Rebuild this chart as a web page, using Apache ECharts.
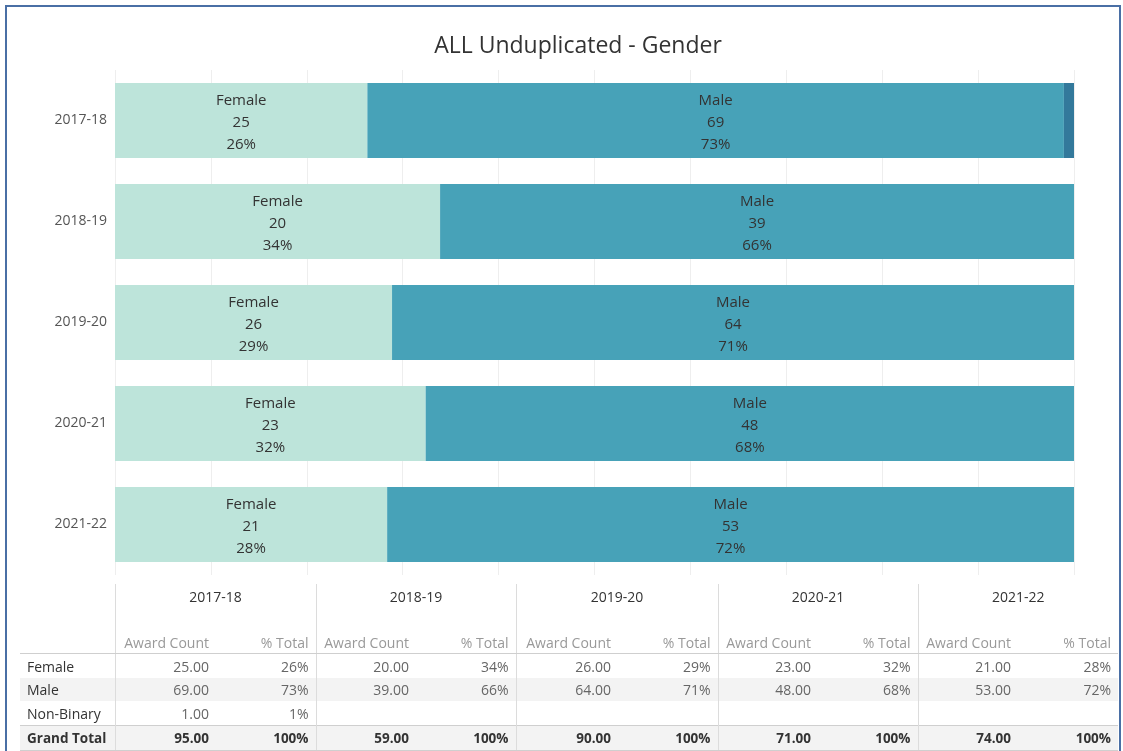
<!DOCTYPE html>
<html>
<head>
<meta charset="utf-8">
<script src="https://cdn.jsdelivr.net/npm/echarts@6/dist/echarts.min.js"></script>
<style>
  html, body { margin: 0; padding: 0; background: #fff; }
  body { width: 1123px; height: 751px; position: relative; overflow: hidden; font-family: 'Open Sans', 'Noto Sans', sans-serif; }
  #frame { position: absolute; left: 5px; top: 5px; width: 1116px; height: 780px; border: 2px solid #4a6fa5; box-sizing: border-box; }
  #chart { position: absolute; left: 0; top: 0; width: 1123px; height: 751px; }
  #tbl { position: absolute; left: 20px; top: 584px; border-collapse: collapse; table-layout: fixed; font-size: 14px; color: #666; }
  #tbl td { padding: 0 3px; white-space: nowrap; overflow: hidden; text-align: right; height: 24px; line-height: 23px; }
  #tbl td.pc { padding-right: 7px; }
  #tbl td.rh { text-align: left; padding-left: 7px; color: #333; }
  #tbl td.sep { border-left: 1px solid #dcdcdc; }
  #tbl tr.yr td { height: 40px; line-height: 18px; vertical-align: top; padding-top: 4px; text-align: center; color: #333; }
  #tbl tr.sub td { color: #999; height: 24px; line-height: 18px; vertical-align: bottom; padding-bottom: 1px; border-bottom: 1px solid #cfcfcf; }
  #tbl tr.thin td { height: 23px; }
  #tbl tr.shade td { background: #f3f3f3; }
  #tbl tr.total td { background: #f3f3f3; font-weight: bold; font-size: 13.5px; color: #333; border-top: 1px solid #cfcfcf; border-bottom: 1px solid #cfcfcf; }
</style>
</head>
<body>
<div id="chart"></div>
<table id="tbl"></table>
<div id="frame"></div>
<script>
// 学年
const years = ['2017-18', '2018-19', '2019-20', '2020-21', '2021-22']
const genders = ['Female', 'Male', 'Non-Binary']
// award counts per gender
const femaleCount = [25, 20, 26, 23, 21]
const maleCount = [69, 39, 64, 48, 53]
const nonBinaryCount = [1, null, null, null, null]
const totalCount = [95, 59, 90, 71, 74]
// % total as shown
const femalePct = [26, 34, 29, 32, 28]
const malePct = [73, 66, 71, 68, 72]
const nonBinaryPct = [1, null, null, null, null]

const counts = [femaleCount, maleCount, nonBinaryCount]
const pcts = [femalePct, malePct, nonBinaryPct]
const colors = ['#bde4da', '#47a2b8', '#33799b']

const myChart = echarts.init(document.getElementById('chart'))

const series = genders.map((name, i) => ({
    name,
    type: 'bar',
    stack: 'total',
    barWidth: 75,
    itemStyle: { color: colors[i] },
    label: {
        show: i < 2,
        position: 'inside',
        offset: [0, 2],
        color: '#333',
        fontSize: 15,
        lineHeight: 22,
        fontFamily: 'Open Sans',
        formatter: p => name + '\n' + counts[i][p.dataIndex] + '\n' + pcts[i][p.dataIndex] + '%'
    },
    // share of the year's total, so every bar runs 0-100
    data: counts[i].map((v, j) => v == null ? null : v / totalCount[j] * 100)
}))

myChart.setOption({
    animation: false,
    title: {
        text: 'ALL Unduplicated - Gender',
        left: 573,
        top: 30,
        textAlign: 'center',
        textStyle: { fontSize: 23, fontWeight: 'normal', color: '#333', fontFamily: 'Open Sans' }
    },
    grid: { left: 115, right: 49, top: 70, bottom: 176 },
    xAxis: {
        type: 'value',
        min: 0,
        max: 100,
        interval: 10,
        axisLabel: { show: false },
        axisLine: { show: false },
        axisTick: { show: false },
        splitLine: { show: true, lineStyle: { color: '#eeeeee' } }
    },
    yAxis: {
        type: 'category',
        inverse: true,
        data: years,
        axisLine: { show: false },
        axisTick: { show: false },
        axisLabel: { color: '#555', fontSize: 14, margin: 8, fontFamily: 'Open Sans' }
    },
    series
})

// table under the chart
const fmt = v => v == null ? '' : v.toFixed(2)
const colW = [95, 97, 104, 96, 104, 98, 104, 96, 104, 96, 104]
let html = '<colgroup>' + colW.map(w => '<col style="width:' + w + 'px">').join('') + '</colgroup>'
html += '<tr class="yr"><td class="rh"></td>' + years.map(y => '<td class="sep" colspan="2">' + y + '</td>').join('') + '</tr>'
html += '<tr class="sub"><td class="rh"></td>' + years.map(() => '<td class="sep">Award Count</td><td class="pc">% Total</td>').join('') + '</tr>'
genders.forEach((g, i) => {
    html += '<tr class="' + (i === 1 ? 'shade thin' : '') + '"><td class="rh">' + g + '</td>' +
        years.map((y, j) => '<td class="sep">' + fmt(counts[i][j]) + '</td><td class="pc">' + (pcts[i][j] == null ? '' : pcts[i][j] + '%') + '</td>').join('') + '</tr>'
})
html += '<tr class="total"><td class="rh">Grand Total</td>' +
    years.map((y, j) => '<td class="sep">' + fmt(totalCount[j]) + '</td><td class="pc">100%</td>').join('') + '</tr>'
document.getElementById('tbl').innerHTML = html
</script>
</body>
</html>
